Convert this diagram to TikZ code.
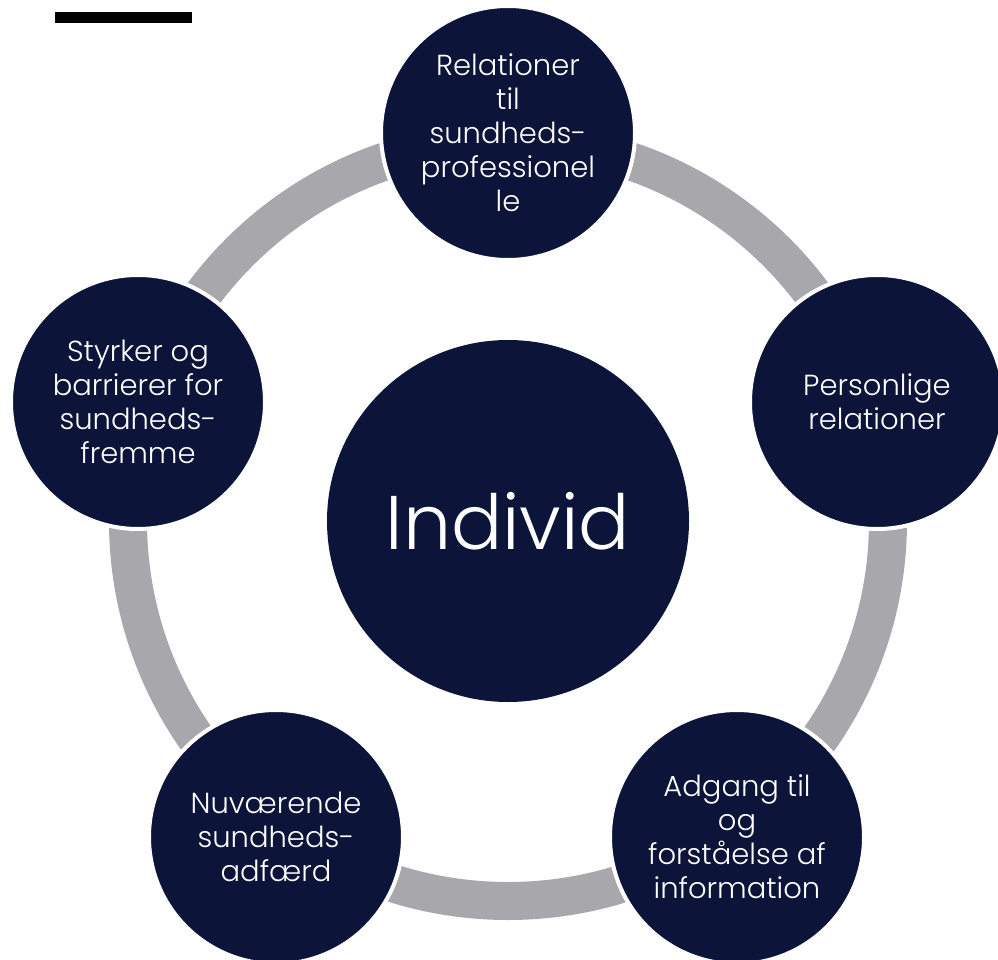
\documentclass[tikz,border=0pt]{standalone}
\usepackage{fontspec}
\setmainfont{Poppins}[UprightFont={* Light}]
\definecolor{navy}{HTML}{0C1539}
\definecolor{ringgray}{HTML}{A8A8AC}

\begin{document}
\begin{tikzpicture}[x=1pt,y=-1pt,
    topic/.style={circle,fill=navy,draw=white,line width=4pt,minimum size=254pt,
      inner sep=0pt,text=white,align=center,font=\fontsize{29}{34}\selectfont},
    core/.style={circle,fill=navy,minimum size=362pt,inner sep=0pt,text=white,
      font=\fontsize{76}{90}\selectfont},
    ring/.style={draw=ringgray,line width=38pt}]
  \useasboundingbox (0,0) rectangle (998,960);
  \fill (55,12) rectangle (192,23);
  \node[core] (ind) at (508,521) {Individ};
  \draw[ring] (ind.center) circle[radius=380pt];
  \node[topic] (prof) at (508,133) {Relationer\\til\\sundheds-\\professionel\\le};
  \node[topic] (pers) at (877,402) {Personlige\\relationer};
  \node[topic] (info) at (737,837) {Adgang til\\og\\forståelse af\\information};
  \node[topic] (adf)  at (276,837) {Nuværende\\sundheds-\\adfærd};
  \node[topic] (bar)  at (138,402) {Styrker og\\barrierer for\\sundheds-\\fremme};
\end{tikzpicture}
\end{document}
